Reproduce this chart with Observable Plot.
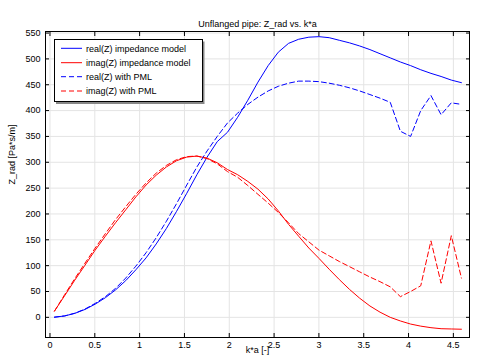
<!DOCTYPE html>
<html><head><meta charset="utf-8">
<script src="https://cdn.jsdelivr.net/npm/d3@7"></script>
<script src="https://cdn.jsdelivr.net/npm/@observablehq/plot@0.6"></script>
<style>body{margin:0;background:#fff;} svg{font-family:"Liberation Sans",Arial,sans-serif;}</style>
</head><body><div id="chart"></div>
<script>
const ka = [0.050,0.164,0.277,0.391,0.504,0.618,0.731,0.845,0.958,1.072,1.185,1.299,1.412,1.526,1.639,1.753,1.866,1.980,2.093,2.207,2.320,2.434,2.547,2.661,2.774,2.888,3.001,3.115,3.228,3.342,3.455,3.569,3.682,3.796,3.909,4.023,4.136,4.250,4.363,4.477,4.590];
const realModel = [0.3,2.7,7.7,15.3,25.5,38,53,71,92,115,142,172,205,240,276,310,340,358,387,420,455,487,513,530,538,542,543,541,536,531,525,518,510,502,494,487,479,472,466,459,454];
const imagModel = [12,42,72,101,130,157,183,208,233,256,275,291,303,310,312,308,299,286,276,263,248,229,206,180,157,134,114,93,73,54,37,22,10,0,-7,-13,-17,-20,-22,-22.5,-23];
const realPML = [0.3,2.8,8,16,27,40,56,76,99,125,154,186,220,256,291,322,350,376,395,412,426,438,447,453,457,457,456,453,449,444,438,431,424,416,360,350,400,429,392,415,412];
const imagPML = [12,44,75,105,134,162,189,214,238,260,279,294,305,311,312,307,297,282,271,255,238,221,203,183,162,146,130,119,108,98,88,78,69,59,40,50,61,148,66,158,76];
const xTicks = [0,0.5,1,1.5,2,2.5,3,3.5,4,4.5];
const yTicks = [0,50,100,150,200,250,300,350,400,450,500,550];
const seriesNames = ["real(Z) impedance model","imag(Z) impedance model","real(Z) with PML","imag(Z) with PML"];
const seriesValues = [realModel, imagModel, realPML, imagPML];
const seriesColors = ["#0000ff","#ff0000","#0000ff","#ff0000"];
const seriesDash = [null, null, "5,3", "5,3"];
const titleText = "Unflanged pipe: Z_rad vs. k*a";
const xLabel = "k*a [-]";
const yLabel = "Z_rad [Pa*s/m]";

const lineMarks = seriesValues.map((vals, i) =>
  Plot.line(vals.map((v, j) => ({x: ka[j], y: v})), {
    x: "x", y: "y", stroke: seriesColors[i], strokeWidth: 1,
    strokeDasharray: seriesDash[i] || undefined
  })
);

const fmt = d => String(d);
const noText = () => "";
const plot = Plot.plot({
  width: 484, height: 364,
  marginLeft: 45, marginRight: 15, marginTop: 31, marginBottom: 27,
  style: {fontFamily: '"Liberation Sans", Arial, sans-serif', fontSize: "9px", color: "#000", background: "#fff"},
  x: {domain: [-0.05, 4.68]},
  y: {domain: [-39, 553]},
  marks: [
    Plot.gridX(xTicks, {stroke: "#e4e4e4", strokeOpacity: 1}),
    Plot.gridY(yTicks, {stroke: "#e4e4e4", strokeOpacity: 1}),
    ...lineMarks,
    Plot.frame({stroke: "#000", strokeWidth: 1}),
    Plot.axisX(xTicks, {anchor: "bottom", tickSize: 0, tickPadding: 4, tickFormat: fmt, label: null, fill: "#000"}),
    Plot.axisY(yTicks, {anchor: "left", tickSize: 0, tickPadding: 5, tickFormat: fmt, label: null, fill: "#000"}),
    Plot.axisX(xTicks, {anchor: "bottom", tickSize: -4, tickFormat: noText, label: null}),
    Plot.axisX(xTicks, {anchor: "top", tickSize: -4, tickFormat: noText, label: null}),
    Plot.axisY(yTicks, {anchor: "left", tickSize: -4, tickFormat: noText, label: null}),
    Plot.axisY(yTicks, {anchor: "right", tickSize: -4, tickFormat: noText, label: null}),
    Plot.text([titleText], {frameAnchor: "top", dy: -11, fontSize: 9, fill: "#000"}),
    Plot.text([xLabel], {frameAnchor: "bottom", dy: 15, fontSize: 9, fill: "#000"}),
    Plot.text([yLabel], {frameAnchor: "left", dx: -33, rotate: -90, fontSize: 9, fill: "#000"})
  ]
});
document.getElementById("chart").appendChild(plot);

// legend
const svg = d3.select(plot);
const lg = svg.append("g").attr("text-anchor", "start");
lg.append("rect").attr("x", 56).attr("y", 41.5).attr("width", 148.5).attr("height", 62.5).attr("fill", "#888");
lg.append("rect").attr("x", 54.5).attr("y", 39.5).attr("width", 148).attr("height", 62).attr("fill", "#fff").attr("stroke", "#000").attr("stroke-width", 1);
const rowY = [48.3, 62.7, 76.7, 91];
seriesNames.forEach((name, i) => {
  lg.append("line").attr("x1", 61).attr("x2", 82).attr("y1", rowY[i]).attr("y2", rowY[i])
    .attr("stroke", seriesColors[i]).attr("stroke-width", 1).attr("stroke-dasharray", seriesDash[i]);
  lg.append("text").attr("x", 86).attr("y", rowY[i] + 3.2).attr("font-size", 9).attr("fill", "#000")
    .attr("text-anchor", "start").text(name);
});
</script></body></html>
